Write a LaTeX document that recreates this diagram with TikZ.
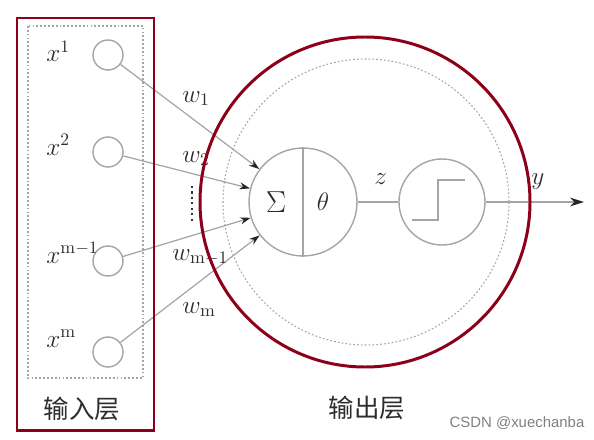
\documentclass[tikz,border=0pt]{standalone}
\usepackage{amsmath, amssymb}
\usepackage{fontspec}
\newfontfamily\cjk{Noto Sans CJK SC}
\newfontfamily\markfont{Liberation Sans}
\usetikzlibrary{arrows.meta, positioning}

\definecolor{darkred}{RGB}{140,0,25}
\definecolor{linegray}{RGB}{165,165,165}
\definecolor{textgray}{RGB}{45,45,45}

\begin{document}
\begin{tikzpicture}[x=0.02cm, y=-0.02cm,
		neuron/.style={circle, draw=linegray, line width=0.8pt, inner sep=0pt},
		weight/.style={conn, -{Stealth[length=6pt, width=4pt, color=black!85]}},
		conn/.style={draw=linegray, line width=0.7pt},
		frame/.style={draw=darkred, line width=1.7pt},
		dotline/.style={draw=linegray, line width=0.6pt, dash pattern=on 1pt off 1.2pt},
		lbl/.style={text=textgray, font=\fontsize{14.5}{16}\selectfont, inner sep=0pt, anchor=base west},
		layername/.style={text=textgray, font=\cjk\fontsize{14.5}{16}\selectfont}]
		\useasboundingbox (0,0) rectangle (594,439);

		% Draw the dotted box of the input layer
		\draw[dotline] (28,26) rectangle (143,378);

		% Input neurons and their labels
		\node[neuron, minimum size=0.6cm] (x1) at (108,55) {};
		\node[neuron, minimum size=0.6cm] (x2) at (108,152) {};
		\node[neuron, minimum size=0.6cm] (xm1) at (108,261) {};
		\node[neuron, minimum size=0.6cm] (xm) at (108,352) {};
		\node[lbl] (lx1) at (46,62) {$x^{1}$};
		\node[lbl] (lx2) at (46,155) {$x^{2}$};
		\node[lbl] (lxm1) at (46,263) {$x^{\mathrm{m}-1}$};
		\node[lbl] (lxm) at (46,347) {$x^{\mathrm{m}}$};

		% Draw the dotted circle of the output neuron
		\draw[dotline] (366,202) circle (143);

		% Summing unit, split into sum and threshold
		\node[neuron, minimum size=2.16cm] (sum) at (303,202) {};
		\draw[conn] (sum.north) -- (sum.south);
		\node[text=textgray, font=\LARGE] (sigma) at (276,202) {$\Sigma$};
		\node[text=textgray, font=\Large] (theta) at (323,202) {$\theta$};

		% Step function unit
		\node[neuron, minimum size=1.72cm] (step) at (442,202) {};
		\draw[conn] (412,220) -- (438,220) -- (438,180) -- (465,180);

		% Weighted inputs
		\draw[weight] (x1) -- (sum);
		\draw[weight] (x2) -- (sum);
		\draw[weight] (xm1) -- (sum);
		\draw[weight] (xm) -- (sum);
		\node[lbl] (w1) at (182,102) {$w_{1}$};
		\node[lbl] (w2) at (182,162) {$w_{2}$};
		\node[lbl] (wm1) at (172,260) {$w_{\mathrm{m}-1}$};
		\node[lbl] (wm) at (182,313) {$w_{\mathrm{m}}$};
		\draw[black!80, line width=1.5pt, dash pattern=on 1.2pt off 1.9pt] (192,186) -- (192,222);

		% Output of the neuron
		\coordinate (out) at (584,202);
		\draw[conn] (sum) -- (step);
		\draw[conn, -{Stealth[length=8pt, width=5pt, color=black!85]}] (step) -- (out);
		\node[lbl] (z) at (374,184) {$z$};
		\node[lbl] (y) at (531,184) {$y$};

		% Red frames round the two layers
		\draw[frame] (17,18) rectangle (154,430);
		\draw[frame] (365,202) circle (165);

		% Layer names
		\node[layername] (inname) at (82,409) {输入层};
		\node[layername] (outname) at (367,408) {输出层};

		% Watermark
		\node[text=gray, font=\markfont\fontsize{8.5}{10}\selectfont] (mark) at (517,423) {CSDN @xuechanba};

	\end{tikzpicture}
\end{document}
